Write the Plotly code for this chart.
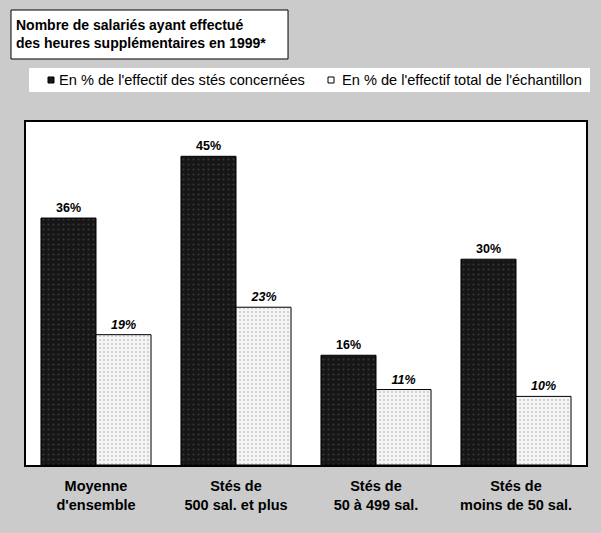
import plotly.graph_objects as go

CATEGORIES = ["Moyenne<br>d'ensemble", "Stés de<br>500 sal. et plus",
              "Stés de<br>50 à 499 sal.", "Stés de<br>moins de 50 sal."]
PCT_CONCERNEES = [36, 45, 16, 30]
PCT_ECHANTILLON = [19, 23, 11, 10]
SERIES_NAMES = ["En % de l'effectif des stés concernées",
                "En % de l'effectif total de l'échantillon"]
TITLE = "Nombre de salariés ayant effectué<br>des heures supplémentaires en 1999*"

FONT = "Liberation Sans, Arial, sans-serif"
PAGE_BG = "#cbcbcb"
DARK = "#161616"
LIGHT = "#f4f4f4"

fig = go.Figure()
fig.add_trace(go.Bar(
    x=CATEGORIES, y=PCT_CONCERNEES, name=SERIES_NAMES[0],
    marker=dict(color=DARK, line=dict(color="black", width=1),
                pattern=dict(shape=".", fgcolor="#555555", bgcolor=DARK,
                             size=5, solidity=0.15)),
    texttemplate="<b>%{y}%</b>", textposition="outside",
    textfont=dict(size=12.5, color="black", family=FONT),
    cliponaxis=False,
))
fig.add_trace(go.Bar(
    x=CATEGORIES, y=PCT_ECHANTILLON, name=SERIES_NAMES[1],
    marker=dict(color=LIGHT, line=dict(color="black", width=1),
                pattern=dict(shape=".", fgcolor="#9a9a9a", bgcolor=LIGHT,
                             size=4, solidity=0.2)),
    texttemplate="<b><i>%{y}%</i></b>", textposition="outside",
    textfont=dict(size=12.5, color="black", family=FONT),
    cliponaxis=False,
))

fig.update_layout(
    width=601, height=533,
    paper_bgcolor=PAGE_BG, plot_bgcolor="white",
    font=dict(family=FONT, color="black", size=11),
    margin=dict(l=26, r=15, t=122, b=68),
    barmode="group", bargap=0.214, bargroupgap=0,
    showlegend=False,
)
fig.update_xaxes(showline=True, linecolor="black", linewidth=2, mirror=True,
                 ticks="", tickfont=dict(size=14.5, family=FONT), showgrid=False,
                 tickprefix="<b>", ticksuffix="</b>", ticklabelstandoff=7)
fig.update_yaxes(range=[0, 50], showline=True, linecolor="black", linewidth=2,
                 mirror=True, showticklabels=False, showgrid=False, zeroline=False,
                 ticks="")

# title box
fig.add_shape(type="rect", xref="paper", yref="paper", x0=-0.0268, x1=0.4679,
              y0=1.1837, y1=1.3265, fillcolor="white", line=dict(color="black", width=1),
              layer="below")
fig.add_annotation(text="<b>" + TITLE + "</b>", xref="paper", yref="paper",
                   x=-0.0214, y=1.2566, xanchor="left", yanchor="middle", align="left",
                   showarrow=False, font=dict(size=14, family=FONT))

# legend strip
fig.add_shape(type="rect", xref="paper", yref="paper", x0=0.0054, x1=1.0071,
              y0=1.0875, y1=1.1574, fillcolor="white", line=dict(width=0),
              layer="below")
legend_items = [(0.0393, 0.0554, DARK), (0.5393, 0.5607, "white")]
for (sx, tx, col), name in zip(legend_items, SERIES_NAMES):
    fig.add_shape(type="rect", xref="paper", yref="paper", x0=sx, x1=sx + 0.0107,
                  y0=1.1137, y1=1.1312, fillcolor=col, line=dict(color="black", width=1))
    fig.add_annotation(text=name, xref="paper", yref="paper", x=tx, y=1.1224,
                       xanchor="left", yanchor="middle", showarrow=False,
                       font=dict(size=14.6, family=FONT))

fig.write_html("out.html", config={"displayModeBar": False},
               post_script="document.body.style.margin='0';")
